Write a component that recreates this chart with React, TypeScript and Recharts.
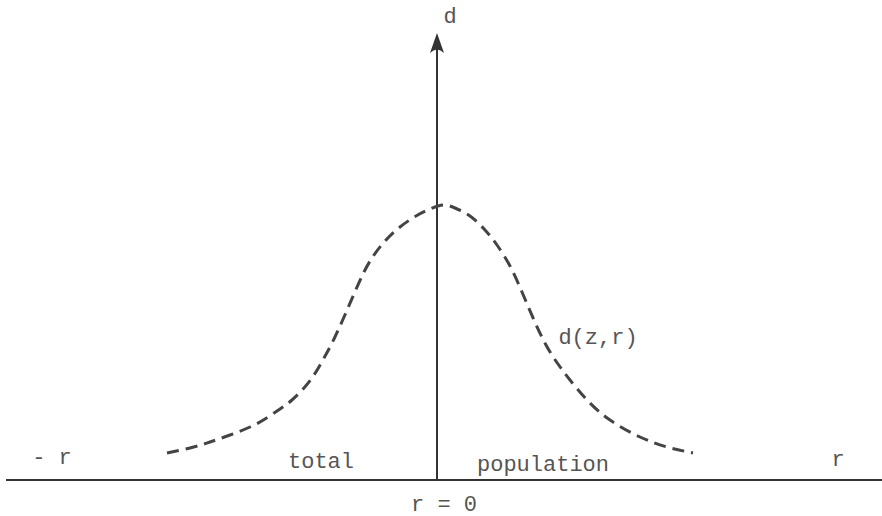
import React from 'react';
import {
  LineChart,
  Line,
  XAxis,
  YAxis,
  ReferenceLine,
  ReferenceDot,
} from 'recharts';

// r positions along the baseline and d(z,r) height
const rValues = [
  -2.7, -2.47, -2.27, -2.07, -1.87, -1.72, -1.57, -1.45, -1.33, -1.23, -1.13,
  -1.03, -0.93, -0.83, -0.73, -0.63, -0.51, -0.37, -0.21, -0.07, 0.06, 0.18,
  0.33, 0.48, 0.6, 0.73, 0.85, 0.97, 1.09, 1.21, 1.33, 1.5, 1.73, 2.03, 2.3,
  2.56,
];
const dValues = [
  0.27, 0.32, 0.38, 0.45, 0.53, 0.61, 0.71, 0.8, 0.92, 1.05, 1.22, 1.41, 1.63,
  1.86, 2.08, 2.25, 2.4, 2.53, 2.64, 2.71, 2.75, 2.72, 2.64, 2.5, 2.35, 2.14,
  1.88, 1.6, 1.35, 1.16, 1.0, 0.8, 0.6, 0.43, 0.33, 0.27,
];

const labelTexts = ['d', '- r', 'total', 'population', 'd(z,r)', 'r', 'r = 0'];

const R_DOMAIN: [number, number] = [-4.31, 4.45];
const D_DOMAIN: [number, number] = [0, 4.47];

// where each label sits, in chart units
const labelSpots: Record<string, [number, number]> = {
  d: [0.13, 4.63],
  '- r': [-3.85, 0.22],
  total: [-1.16, 0.18],
  population: [1.06, 0.15],
  'd(z,r)': [1.61, 1.42],
  r: [4.01, 0.2],
  'r = 0': [0.07, -0.25],
};

const data = rValues.map((r, i) => ({ r, d: dValues[i] }));

const INK = '#333';
const TEXT = '#555';
const FONT = '"Liberation Mono", "DejaVu Sans Mono", monospace';

function Arrowhead(props: any) {
  const { cx, cy } = props;
  return (
    <path
      d={`M${cx},${cy} L${cx - 7},${cy + 20} Q${cx},${cy + 13} ${cx + 7},${cy + 20} Z`}
      fill={INK}
    />
  );
}

function makeLabel(text: string) {
  return (props: any) => (
    <text
      x={props.cx}
      y={props.cy}
      textAnchor="middle"
      dominantBaseline="central"
      fontFamily={FONT}
      fontSize={22}
      fill={TEXT}
    >
      {text}
    </text>
  );
}

export default function App() {
  return (
    <div style={{ position: 'absolute', left: 0, top: 0, background: '#fff' }}>
      <LineChart
        width={882}
        height={516}
        data={data}
        margin={{ top: 33, right: 0, bottom: 36, left: 6 }}
      >
        <XAxis type="number" dataKey="r" domain={R_DOMAIN} hide allowDataOverflow />
        <YAxis type="number" domain={D_DOMAIN} hide allowDataOverflow />

        {/* baseline and the d axis */}
        <ReferenceLine y={0} stroke={INK} strokeWidth={2} />
        <ReferenceLine
          segment={[
            { x: 0, y: 0 },
            { x: 0, y: D_DOMAIN[1] - 0.1 },
          ]}
          stroke={INK}
          strokeWidth={2}
        />
        <ReferenceDot x={0} y={D_DOMAIN[1]} r={0} ifOverflow="visible" shape={Arrowhead} />

        <Line
          type="natural"
          dataKey="d"
          stroke="#444"
          strokeWidth={3}
          strokeDasharray="12 7"
          dot={false}
          isAnimationActive={false}
        />

        {labelTexts.map((t) => (
          <ReferenceDot
            key={t}
            x={labelSpots[t][0]}
            y={labelSpots[t][1]}
            r={0}
            ifOverflow="visible"
            shape={makeLabel(t)}
          />
        ))}
      </LineChart>
    </div>
  );
}
